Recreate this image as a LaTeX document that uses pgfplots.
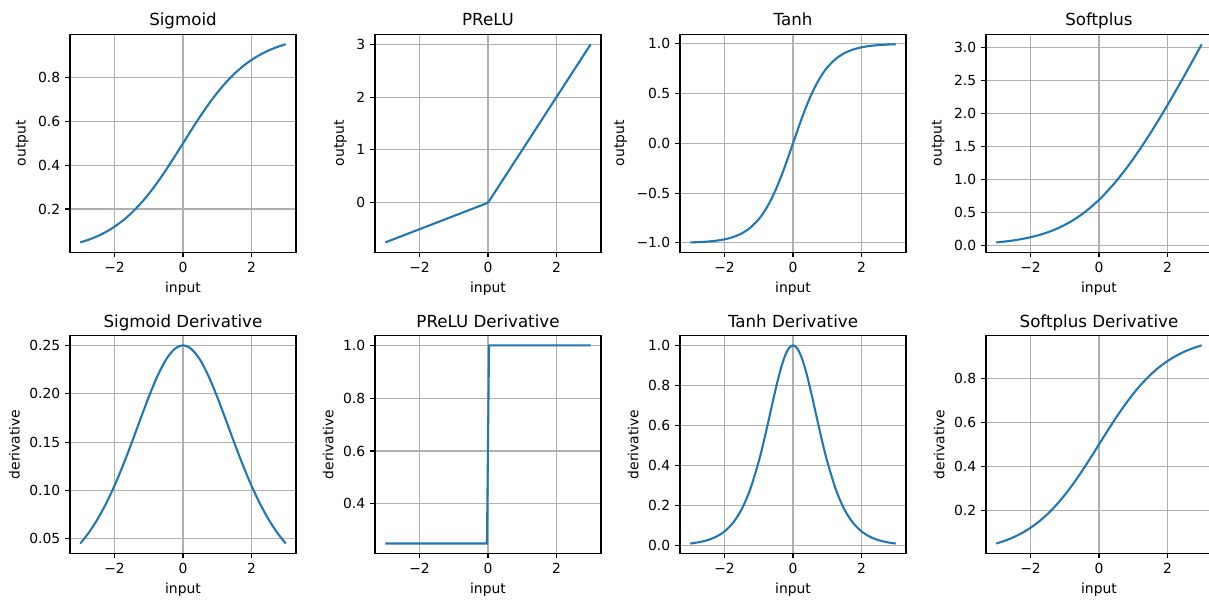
\documentclass[border=0pt]{standalone}
\usepackage{fontspec}
\setmainfont{DejaVu Sans}
\usepackage{pgfplots}
\pgfplotsset{compat=1.18}
\definecolor{mplblue}{HTML}{1F77B4}
\definecolor{gridgray}{HTML}{B0B0B0}
\pgfplotsset{
  mp/.style={
    scale only axis, width=162.72pt, height=156.96pt, anchor=south west,
    xmin=-3.3, xmax=3.3, xtick={-2,0,2}, xticklabels={−2,0,2},
    grid=major, major grid style={color=gridgray, line width=0.8pt},
    axis line style={line width=0.8pt, black},
    tick align=outside, major tick length=3.5pt,
    tick style={line width=0.8pt, black},
    xtick pos=left, ytick pos=left,
    tick label style={font=\fontsize{10}{12}\selectfont, black},
    label style={font=\fontsize{10}{12}\selectfont, black},
    title style={font=\fontsize{12}{14}\selectfont, at={(0.5,1)}, anchor=base},
    xlabel={input},
    every axis plot post/.append style={color=mplblue, line width=1.5pt, mark=none},
  }
}
\begin{document}
\begin{tikzpicture}
% Row 1
\begin{axis}[mp, at={(50.4pt,249.6pt)}, title={Sigmoid}, ylabel={output},
  ymin=0.0021, ymax=0.9979, ytick={0.2,0.4,0.6,0.8}, yticklabels={0.2,0.4,0.6,0.8}]
\addplot[smooth] coordinates {(-3,0.047426)(-2.75,0.060087)(-2.5,0.075858)(-2.25,0.095349)(-2,0.119203)(-1.75,0.148047)(-1.5,0.182426)(-1.25,0.222700)(-1,0.268941)(-0.75,0.320821)(-0.5,0.377541)(-0.25,0.437823)(0,0.5)(0.25,0.562177)(0.5,0.622459)(0.75,0.679179)(1,0.731059)(1.25,0.777300)(1.5,0.817574)(1.75,0.851953)(2,0.880797)(2.25,0.904651)(2.5,0.924142)(2.75,0.939913)(3,0.952574)};
\end{axis}
\begin{axis}[mp, at={(270pt,249.6pt)}, title={PReLU}, ylabel={output},
  ymin=-0.9375, ymax=3.1875, ytick={0,1,2,3}, yticklabels={0,1,2,3}]
\addplot[sharp plot] coordinates {(-3,-0.75)(-0.0303,-0.007576)(0.0303,0.0303)(3,3)};
\end{axis}
\begin{axis}[mp, at={(489.6pt,249.6pt)}, title={Tanh}, ylabel={output},
  ymin=-1.0945, ymax=1.0945, ytick={-1,-0.5,0,0.5,1}, yticklabels={−1.0,−0.5,0.0,0.5,1.0}]
\addplot[smooth] coordinates {(-3,-0.995055)(-2.75,-0.991815)(-2.5,-0.986614)(-2.25,-0.978026)(-2,-0.964028)(-1.75,-0.941376)(-1.5,-0.905148)(-1.25,-0.848284)(-1,-0.761594)(-0.875,-0.703906)(-0.75,-0.635149)(-0.625,-0.554600)(-0.5,-0.462117)(-0.375,-0.358357)(-0.25,-0.244919)(-0.125,-0.124353)(0,0)(0.125,0.124353)(0.25,0.244919)(0.375,0.358357)(0.5,0.462117)(0.625,0.554600)(0.75,0.635149)(0.875,0.703906)(1,0.761594)(1.25,0.848284)(1.5,0.905148)(1.75,0.941376)(2,0.964028)(2.25,0.978026)(2.5,0.986614)(2.75,0.991815)(3,0.995055)};
\end{axis}
\begin{axis}[mp, at={(709.9pt,249.6pt)}, title={Softplus}, ylabel={output},
  ymin=-0.1014, ymax=3.1986, ytick={0,0.5,1,1.5,2,2.5,3}, yticklabels={0.0,0.5,1.0,1.5,2.0,2.5,3.0}]
\addplot[smooth] coordinates {(-3,0.048587)(-2.75,0.061923)(-2.5,0.078890)(-2.25,0.100239)(-2,0.126928)(-1.75,0.160220)(-1.5,0.201413)(-1.25,0.251929)(-1,0.313262)(-0.75,0.386861)(-0.5,0.474077)(-0.25,0.575939)(0,0.693147)(0.25,0.825939)(0.5,0.974077)(0.75,1.136861)(1,1.313262)(1.25,1.501929)(1.5,1.701413)(1.75,1.910220)(2,2.126928)(2.25,2.350239)(2.5,2.578890)(2.75,2.811923)(3,3.048587)};
\end{axis}
% Row 2
\begin{axis}[mp, at={(50.4pt,32.8pt)}, title={Sigmoid Derivative}, ylabel={derivative},
  ymin=0.03494, ymax=0.26024, ytick={0.05,0.1,0.15,0.2,0.25}, yticklabels={0.05,0.10,0.15,0.20,0.25}]
\addplot[smooth] coordinates {(-3,0.045177)(-2.75,0.056477)(-2.5,0.070104)(-2.25,0.086258)(-2,0.104994)(-1.75,0.126129)(-1.5,0.149146)(-1.25,0.173104)(-1,0.196612)(-0.75,0.217895)(-0.5,0.235004)(-0.25,0.246134)(0,0.25)(0.25,0.246134)(0.5,0.235004)(0.75,0.217895)(1,0.196612)(1.25,0.173104)(1.5,0.149146)(1.75,0.126129)(2,0.104994)(2.25,0.086258)(2.5,0.070104)(2.75,0.056477)(3,0.045177)};
\end{axis}
\begin{axis}[mp, at={(270pt,32.8pt)}, title={PReLU Derivative}, ylabel={derivative},
  ymin=0.2125, ymax=1.0375, ytick={0.4,0.6,0.8,1.0}, yticklabels={0.4,0.6,0.8,1.0}]
\addplot[sharp plot] coordinates {(-3,0.25)(-0.0303,0.25)(0.0303,1)(3,1)};
\end{axis}
\begin{axis}[mp, at={(489.6pt,32.8pt)}, title={Tanh Derivative}, ylabel={derivative},
  ymin=-0.0396, ymax=1.0495, ytick={0,0.2,0.4,0.6,0.8,1}, yticklabels={0.0,0.2,0.4,0.6,0.8,1.0}]
\addplot[smooth] coordinates {(-3,0.009866)(-2.75,0.016303)(-2.5,0.026592)(-2.25,0.043465)(-2,0.070651)(-1.75,0.113811)(-1.5,0.180707)(-1.25,0.280414)(-1,0.419974)(-0.875,0.504516)(-0.75,0.596586)(-0.625,0.692419)(-0.5,0.786448)(-0.375,0.871580)(-0.25,0.940015)(-0.125,0.984536)(0,1)(0.125,0.984536)(0.25,0.940015)(0.375,0.871580)(0.5,0.786448)(0.625,0.692419)(0.75,0.596586)(0.875,0.504516)(1,0.419974)(1.25,0.280414)(1.5,0.180707)(1.75,0.113811)(2,0.070651)(2.25,0.043465)(2.5,0.026592)(2.75,0.016303)(3,0.009866)};
\end{axis}
\begin{axis}[mp, at={(709.9pt,32.8pt)}, title={Softplus Derivative}, ylabel={derivative},
  ymin=0.0021, ymax=0.9979, ytick={0.2,0.4,0.6,0.8}, yticklabels={0.2,0.4,0.6,0.8}]
\addplot[smooth] coordinates {(-3,0.047426)(-2.75,0.060087)(-2.5,0.075858)(-2.25,0.095349)(-2,0.119203)(-1.75,0.148047)(-1.5,0.182426)(-1.25,0.222700)(-1,0.268941)(-0.75,0.320821)(-0.5,0.377541)(-0.25,0.437823)(0,0.5)(0.25,0.562177)(0.5,0.622459)(0.75,0.679179)(1,0.731059)(1.25,0.777300)(1.5,0.817574)(1.75,0.851953)(2,0.880797)(2.25,0.904651)(2.5,0.924142)(2.75,0.939913)(3,0.952574)};
\end{axis}
\pgfresetboundingbox
\path[use as bounding box] (0pt,0pt) rectangle (870.48pt,431.28pt);
\end{tikzpicture}
\end{document}
